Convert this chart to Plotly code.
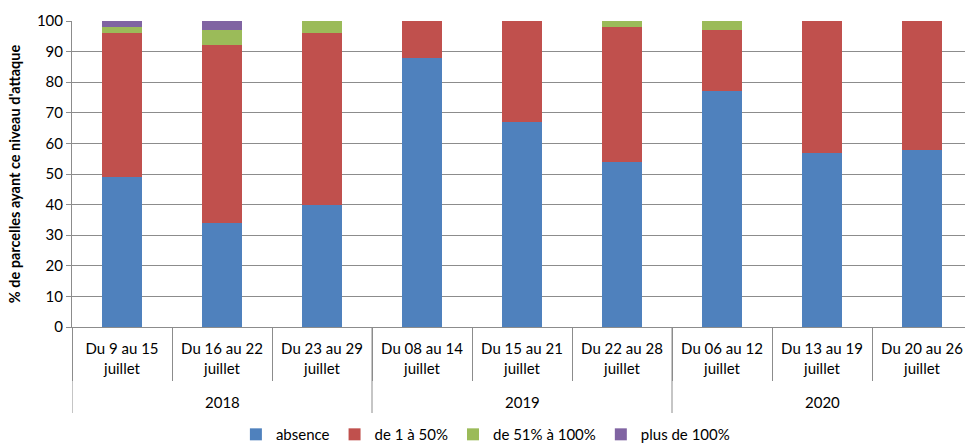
import plotly.graph_objects as go

# Weekly observation periods, grouped by year
years = ["2018", "2018", "2018", "2019", "2019", "2019", "2020", "2020", "2020"]
periods = [
    "Du 9 au 15<br>juillet", "Du 16 au 22<br>juillet", "Du 23 au 29<br>juillet",
    "Du 08 au 14<br>juillet", "Du 15 au 21<br>juillet", "Du 22 au 28<br>juillet",
    "Du 06 au 12<br>juillet", "Du 13 au 19<br>juillet", "Du 20 au 26<br>juillet",
]

# Share of plots (%) per attack level
absence = [49, 34, 40, 88, 67, 54, 77, 57, 58]
de_1_a_50 = [47, 58, 56, 12, 33, 44, 20, 43, 42]
de_51_a_100 = [2, 5, 4, 0, 0, 2, 3, 0, 0]
plus_de_100 = [2, 3, 0, 0, 0, 0, 0, 0, 0]

series = [
    ("absence", absence, "#4F81BD"),
    ("de 1 à 50%", de_1_a_50, "#C0504D"),
    ("de 51% à 100%", de_51_a_100, "#9BBB59"),
    ("plus de 100%", plus_de_100, "#8064A2"),
]

FONT = "Lato, 'Noto Sans', sans-serif"
GRID = "#8C8C8C"
PLOT_H = 443 - 21 - 116  # plot area height in px

fig = go.Figure()
for name, vals, color in series:
    fig.add_trace(go.Bar(
        x=list(range(len(periods))),
        y=vals,
        name=name,
        marker=dict(color=color, line=dict(width=0)),
    ))

# Year groups: a label under each group and a divider at each group edge
groups = []
for i, yr in enumerate(years):
    if not groups or groups[-1][0] != yr:
        groups.append([yr, i, i])
    else:
        groups[-1][2] = i

div_bottom = -(413 - 327) / PLOT_H
year_y = -(402 - 327) / PLOT_H
shapes = []
annotations = []
for yr, start, end in groups:
    annotations.append(dict(
        x=(start + end) / 2, xref="x", y=year_y, yref="paper",
        text=yr, showarrow=False, font=dict(size=15),
        xanchor="center", yanchor="middle",
    ))
    shapes.append(dict(
        type="line", xref="x", yref="paper",
        x0=start - 0.5, x1=start - 0.5, y0=0, y1=div_bottom,
        line=dict(color=GRID, width=1),
    ))
last = groups[-1][2] + 0.5
shapes.append(dict(
    type="line", xref="x", yref="paper",
    x0=last, x1=last, y0=0, y1=div_bottom,
    line=dict(color=GRID, width=1),
))

fig.update_layout(
    barmode="stack",
    bargap=0.6,
    width=965,
    height=443,
    margin=dict(l=72, r=0, t=21, b=116),
    plot_bgcolor="white",
    paper_bgcolor="white",
    font=dict(family=FONT, size=15, color="#000000"),
    legend=dict(
        orientation="h",
        x=0.503, xref="container", xanchor="center",
        y=0.019, yref="container", yanchor="middle",
        font=dict(size=15),
        itemwidth=30,
        traceorder="normal",
    ),
    shapes=shapes,
    annotations=annotations,
)

fig.update_xaxes(
    type="category",
    tickmode="array",
    tickvals=list(range(len(periods))),
    ticktext=periods,
    tickson="boundaries",
    range=[-0.5, 8.43],
    showline=True, linecolor=GRID, linewidth=1,
    ticks="outside", ticklen=53, tickcolor=GRID, tickwidth=1,
    ticklabelstandoff=8,
    tickangle=0,
    tickfont=dict(size=15),
    automargin=False,
)

fig.update_yaxes(
    range=[0, 100],
    dtick=10,
    showgrid=True, gridcolor=GRID, gridwidth=1,
    showline=True, linecolor=GRID, linewidth=1,
    ticks="outside", ticklen=5, tickcolor=GRID,
    zeroline=False,
    tickfont=dict(size=15),
    automargin=False,
    title=dict(
        text="<b>% de parcelles ayant ce niveau d'attaque</b>",
        font=dict(size=14.5),
        standoff=12,
    ),
)

fig.write_html("out.html")
